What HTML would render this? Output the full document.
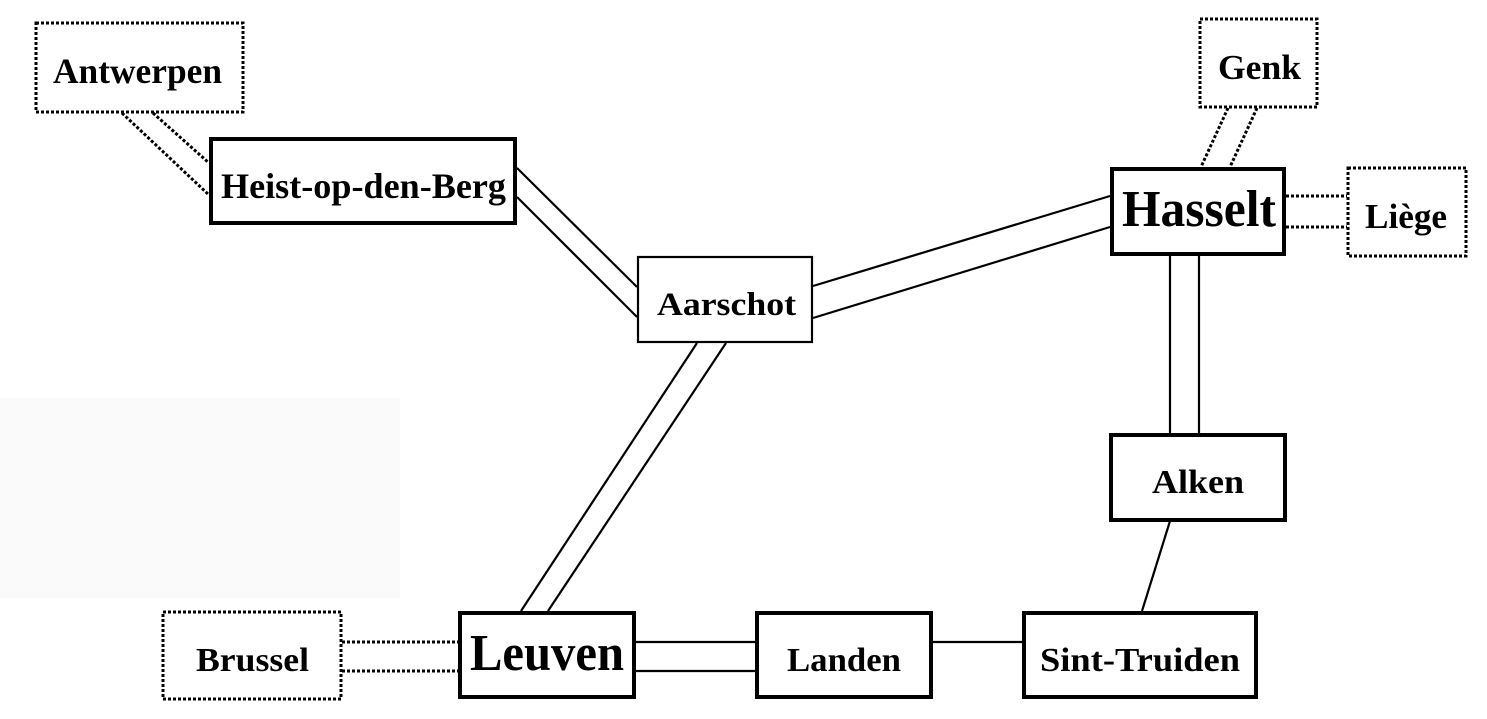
<!DOCTYPE html>
<html><head><meta charset="utf-8"><style>html,body{margin:0;padding:0;background:#fff}svg{display:block}</style></head>
<body>
<svg width="1487" height="719" viewBox="0 0 1487 719" xmlns="http://www.w3.org/2000/svg">
<rect x="0" y="398" width="400" height="200" fill="#fafafa"/>
<g stroke="#000" stroke-width="2.2" fill="none">
<line x1="517" y1="168" x2="637" y2="287"/>
<line x1="517" y1="197" x2="637" y2="317"/>
<line x1="813" y1="286" x2="1110" y2="196"/>
<line x1="813" y1="318" x2="1110" y2="227"/>
<line x1="697" y1="343" x2="521" y2="611"/>
<line x1="726" y1="343" x2="548" y2="611"/>
<line x1="1170" y1="255" x2="1170" y2="433"/>
<line x1="1199" y1="255" x2="1199" y2="433"/>
<line x1="1170" y1="521" x2="1142" y2="611"/>
<line x1="636" y1="642" x2="755" y2="642"/>
<line x1="636" y1="671" x2="755" y2="671"/>
<line x1="933" y1="642" x2="1022" y2="642"/>
</g>
<g stroke="#000" stroke-width="3" fill="none" stroke-dasharray="3 2">
<line x1="122" y1="113" x2="209" y2="195"/>
<line x1="153" y1="113" x2="209" y2="163"/>
<line x1="1228" y1="108" x2="1201" y2="167"/>
<line x1="1257" y1="108" x2="1230" y2="167"/>
<line x1="1286" y1="196" x2="1347" y2="196"/>
<line x1="1286" y1="227" x2="1347" y2="227"/>
<line x1="342" y1="642" x2="458" y2="642"/>
<line x1="342" y1="671" x2="458" y2="671"/>
</g>
<g stroke="#000" stroke-width="3" fill="#fff" stroke-dasharray="3 2">
<rect x="36" y="23" width="207" height="89"/>
<rect x="1200" y="19" width="117" height="88"/>
<rect x="1348" y="168" width="118" height="88"/>
<rect x="163" y="612" width="178" height="87"/>
</g>
<g stroke="#000" stroke-width="4" fill="#fff">
<rect x="211" y="139" width="304" height="84"/>
<rect x="1112" y="169" width="172" height="85"/>
<rect x="1111" y="435" width="174" height="85"/>
<rect x="1024" y="613" width="232" height="84"/>
<rect x="757" y="613" width="174" height="84"/>
<rect x="460" y="613" width="174" height="84"/>
</g>
<rect x="638" y="257" width="174" height="85" stroke="#000" stroke-width="2.2" fill="#fff"/>
<g font-family="'Liberation Serif', serif" font-weight="bold" fill="#000">
<text x="53" y="83" font-size="36" textLength="169" lengthAdjust="spacingAndGlyphs">Antwerpen</text>
<text x="221" y="198" font-size="36" textLength="285" lengthAdjust="spacingAndGlyphs">Heist-op-den-Berg</text>
<text x="657" y="315" font-size="33" textLength="139" lengthAdjust="spacingAndGlyphs">Aarschot</text>
<text x="1122" y="226" font-size="52" textLength="154" lengthAdjust="spacingAndGlyphs">Hasselt</text>
<text x="1218" y="79" font-size="35" textLength="83" lengthAdjust="spacingAndGlyphs">Genk</text>
<text x="1365" y="228" font-size="35" textLength="82" lengthAdjust="spacingAndGlyphs">Liège</text>
<text x="1152" y="493" font-size="34" textLength="92" lengthAdjust="spacingAndGlyphs">Alken</text>
<text x="1040" y="671" font-size="34" textLength="200" lengthAdjust="spacingAndGlyphs">Sint-Truiden</text>
<text x="787" y="671" font-size="34" textLength="114" lengthAdjust="spacingAndGlyphs">Landen</text>
<text x="470" y="670" font-size="52" textLength="154" lengthAdjust="spacingAndGlyphs">Leuven</text>
<text x="196" y="671" font-size="34" textLength="113" lengthAdjust="spacingAndGlyphs">Brussel</text>
</g>
</svg>
</body></html>
